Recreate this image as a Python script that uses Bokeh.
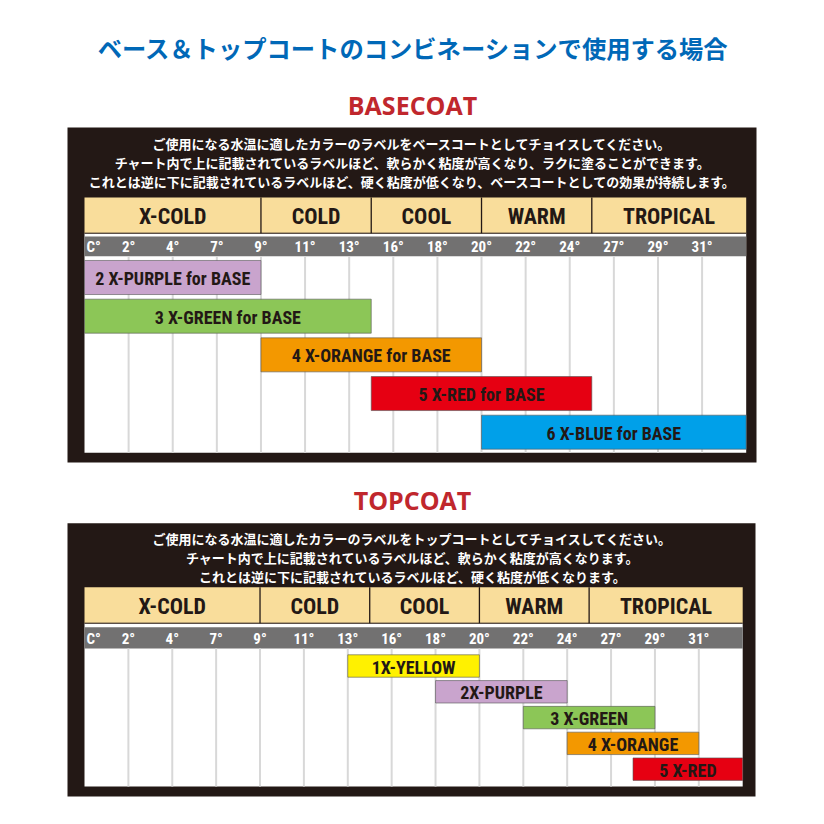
from bokeh.plotting import figure
from bokeh.models import Range1d
from bokeh.core.properties import value
from bokeh.embed import file_html
from bokeh.resources import INLINE

# ---------------- data ----------------
title_text = "ベース＆トップコートのコンビネーションで使用する場合"
base_heading = "BASECOAT"
top_heading = "TOPCOAT"

base_notes = [
    "ご使用になる水温に適したカラーのラベルをベースコートとしてチョイスしてください。",
    "チャート内で上に記載されているラベルほど、軟らかく粘度が高くなり、ラクに塗ることができます。",
    "これとは逆に下に記載されているラベルほど、硬く粘度が低くなり、ベースコートとしての効果が持続します。",
]
top_notes = [
    "ご使用になる水温に適したカラーのラベルをトップコートとしてチョイスしてください。",
    "チャート内で上に記載されているラベルほど、軟らかく粘度が高くなります。",
    "これとは逆に下に記載されているラベルほど、硬く粘度が低くなります。",
]

temp_labels = ["C°", "2°", "4°", "7°", "9°", "11°", "13°", "16°", "18°", "20°",
               "22°", "24°", "27°", "29°", "31°"]

zones = ["X-COLD", "COLD", "COOL", "WARM", "TROPICAL"]
zone_start = [0, 4, 6.5, 9, 11.5]
zone_end = [4, 6.5, 9, 11.5, 15]

base_labels = ["2 X-PURPLE for BASE", "3 X-GREEN for BASE", "4 X-ORANGE for BASE",
               "5 X-RED for BASE", "6 X-BLUE for BASE"]
base_start = [0, 0, 4, 6.5, 9]
base_end = [4, 6.5, 9, 11.5, 15]
base_colors = ["#c9a4cd", "#8cc657", "#f39800", "#e60012", "#00a0e9"]

top_labels = ["1X-YELLOW", "2X-PURPLE", "3 X-GREEN", "4 X-ORANGE", "5 X-RED"]
top_start = [6, 8, 10, 11, 12.5]
top_end = [9, 11, 13, 14, 15]
top_colors = ["#fff100", "#c9a4cd", "#8cc657", "#f39800", "#e60012"]

# ---------------- styles ----------------
DARK = "#231815"
TAN = "#f9dd9b"
BAND = "#727171"
GRID = "#d8d8d8"
NARROW = value("'Roboto Condensed', 'DejaVu Sans Condensed', 'Liberation Sans Narrow', Roboto, sans-serif")
CJK = value("Noto Sans CJK JP")
HEAD = value("Open Sans")

W = H = 808
# image-pixel coordinate system for layout
p = figure(width=W, height=H, output_backend="svg", toolbar_location=None,
           x_range=Range1d(0, W), y_range=Range1d(H, 0),
           x_axis_location=None, y_axis_location=None, min_border=0,
           background_fill_color="white", border_fill_color="white")
p.outline_line_color = None
p.xgrid.visible = False
p.ygrid.visible = False

# column scales for each panel (column 0 .. 15)
bx0, bx1 = 84.0, 745.7
tx0, tx1 = 84.0, 742.2
bk = (bx1 - bx0) / 15
tk = (tx1 - tx0) / 15
p.extra_x_ranges = {
    "bcol": Range1d(-bx0 / bk, 15 + (W - bx1) / bk),
    "tcol": Range1d(-tx0 / tk, 15 + (W - tx1) / tk),
}
# row scales
br0, bpitch = 277.0, 38.675
tr0, tpitch = 665.5, 25.79
p.extra_y_ranges = {
    "brow": Range1d((H - br0) / bpitch, -br0 / bpitch),
    "trow": Range1d((H - tr0) / tpitch, -tr0 / tpitch),
}

# ---------------- title ----------------
p.text(x=[413], y=[47], text=[title_text], text_font=CJK, text_font_style="bold",
       text_font_size="24.3px", text_color="#0068b7", text_align="center",
       text_baseline="middle")


def panel(heading, head_y, box, notes, note_ys, tan_y, band_y, white_bot,
          xr, yr, x0, x1, labels, starts, ends, colors, bar_h, lab_size):
    p.text(x=[412], y=[head_y], text=[heading], text_font=HEAD, text_font_style="bold",
           text_font_size="25px", text_color="#c0272d", text_align="center",
           text_baseline="middle")
    # black frame
    p.quad(left=[box[0]], right=[box[1]], top=[box[2]], bottom=[box[3]],
           fill_color=DARK, line_color=None)
    p.text(x=[412] * len(notes), y=note_ys, text=notes, text_font=CJK,
           text_font_style="bold", text_font_size="13px", text_color="white",
           text_align="center", text_baseline="middle")
    # white chart area and tan zone band
    p.quad(left=[x0], right=[x1], top=[tan_y[1]], bottom=[white_bot],
           fill_color="white", line_color=None)
    p.quad(left=[x0], right=[x1], top=[tan_y[0]], bottom=[tan_y[1]],
           fill_color=TAN, line_color=None)
    p.segment(x0=zone_start[1:], x1=zone_start[1:], y0=tan_y[0], y1=tan_y[1],
              x_range_name=xr, line_color=DARK, line_width=1.3)
    p.segment(x0=[x0], x1=[x1], y0=[tan_y[1]], y1=[tan_y[1]], line_color=DARK,
              line_width=1)
    mids = [(a + b) / 2 for a, b in zip(zone_start, zone_end)]
    p.text(x=mids, y=(tan_y[0] + tan_y[1]) / 2 + 1, text=zones, x_range_name=xr,
           text_font=NARROW, text_font_style="bold", text_font_size="22px",
           text_color=DARK, text_align="center", text_baseline="middle")
    # grey temperature band
    p.quad(left=[x0], right=[x1], top=[band_y[0]], bottom=[band_y[1]],
           fill_color=BAND, line_color=None)
    cols = list(range(1, 15))
    p.segment(x0=cols, x1=cols, y0=band_y[1], y1=white_bot, x_range_name=xr,
              line_color=GRID, line_width=2)
    by = (band_y[0] + band_y[1]) / 2 + 1
    p.text(x=[0], y=[by], text=temp_labels[:1], x_range_name=xr, x_offset=2,
           text_font=NARROW, text_font_style="bold", text_font_size="15px",
           text_color="white", text_align="left", text_baseline="middle")
    p.text(x=cols, y=by, text=temp_labels[1:], x_range_name=xr,
           text_font=NARROW, text_font_style="bold", text_font_size="15px",
           text_color="white", text_align="center", text_baseline="middle")
    # bars
    rows = list(range(len(labels)))
    p.hbar(y=rows, left=starts, right=ends, height=bar_h, fill_color=colors,
           line_color="#555555", line_alpha=0.6, line_width=1,
           x_range_name=xr, y_range_name=yr)
    centers = [(a + b) / 2 for a, b in zip(starts, ends)]
    p.text(x=centers, y=rows, y_offset=1, text=labels, x_range_name=xr, y_range_name=yr,
           text_font=NARROW, text_font_style="bold", text_font_size=lab_size,
           text_color=DARK, text_align="center", text_baseline="middle")


panel(base_heading, 104, (67, 756, 127, 462), base_notes, [143.3, 161.7, 181],
      (197, 232.7), (236, 255.7), 452.3, "bcol", "brow", bx0, bx1,
      base_labels, base_start, base_end, base_colors, 0.88, "18px")

panel(top_heading, 499.7, (67, 755, 522.7, 796), top_notes, [538.3, 556.7, 576],
      (586.7, 622.7), (626.7, 648), 786, "tcol", "trow", tx0, tx1,
      top_labels, top_start, top_end, top_colors, 0.87, "18px")

open("out.html", "w").write(file_html(p, INLINE))
